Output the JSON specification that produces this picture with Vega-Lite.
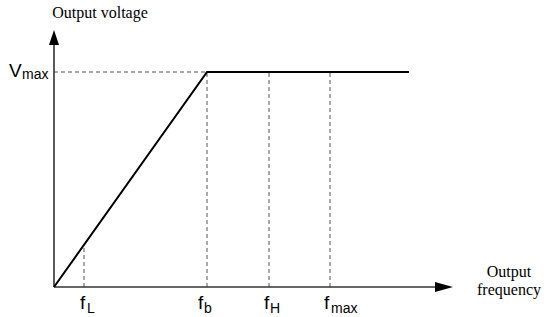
{
  "$schema": "https://vega.github.io/schema/vega-lite/v6.json",
  "width": 544,
  "height": 317,
  "padding": 0,
  "autosize": {"type": "none"},
  "background": "white",
  "config": {"view": {"stroke": null}},
  "datasets": {
    "dashes": [
      {"x": 0, "y": 215, "x2": 153, "y2": 215},
      {"x": 30, "y": 0, "x2": 30, "y2": 43},
      {"x": 153, "y": 0, "x2": 153, "y2": 215},
      {"x": 215, "y": 0, "x2": 215, "y2": 215},
      {"x": 276, "y": 0, "x2": 276, "y2": 215}
    ],
    "axes": [
      {"x": 0, "y": 0, "x2": 0, "y2": 243},
      {"x": 0, "y": 0, "x2": 382, "y2": 0}
    ],
    "curve": [
      {"frequency": 0, "voltage": 0},
      {"frequency": 153, "voltage": 215},
      {"frequency": 355, "voltage": 215}
    ],
    "arrowUp": [{"x": 0, "y": 249.5}],
    "arrowRight": [{"x": 390, "y": 0}],
    "mainLabels": [
      {"x": -45, "y": 210, "text": "V"},
      {"x": 26, "y": -22, "text": "f"},
      {"x": 144, "y": -22, "text": "f"},
      {"x": 210, "y": -22, "text": "f"},
      {"x": 270, "y": -22, "text": "f"}
    ],
    "subLabels": [
      {"x": -32, "y": 208, "text": "max"},
      {"x": 33, "y": -26, "text": "L"},
      {"x": 150, "y": -26, "text": "b"},
      {"x": 216, "y": -26, "text": "H"},
      {"x": 277, "y": -26, "text": "max"}
    ],
    "titles": [
      {"x": 46, "y": 269, "text": "Output voltage"},
      {"x": 455, "y": 10, "text": "Output"},
      {"x": 455, "y": -8, "text": "frequency"}
    ]
  },
  "layer": [
    {
      "data": {"name": "dashes"},
      "mark": {"type": "rule", "stroke": "#555555", "strokeWidth": 1, "strokeDash": [4, 3]},
      "encoding": {
        "x": {"field": "x", "type": "quantitative", "axis": null, "scale": {"domain": [-54, 490], "nice": false, "zero": false}},
        "y": {"field": "y", "type": "quantitative", "axis": null, "scale": {"domain": [-30, 287], "nice": false, "zero": false}},
        "x2": {"field": "x2"},
        "y2": {"field": "y2"}
      }
    },
    {
      "data": {"name": "axes"},
      "mark": {"type": "rule", "stroke": "#333333", "strokeWidth": 1.6},
      "encoding": {
        "x": {"field": "x", "type": "quantitative", "axis": null, "scale": {"domain": [-54, 490], "nice": false, "zero": false}},
        "y": {"field": "y", "type": "quantitative", "axis": null, "scale": {"domain": [-30, 287], "nice": false, "zero": false}},
        "x2": {"field": "x2"},
        "y2": {"field": "y2"}
      }
    },
    {
      "data": {"name": "curve"},
      "mark": {"type": "line", "stroke": "black", "strokeWidth": 2},
      "encoding": {
        "x": {"field": "frequency", "type": "quantitative", "axis": null, "scale": {"domain": [-54, 490], "nice": false, "zero": false}},
        "y": {"field": "voltage", "type": "quantitative", "axis": null, "scale": {"domain": [-30, 287], "nice": false, "zero": false}}
      }
    },
    {
      "data": {"name": "arrowUp"},
      "mark": {"type": "point", "shape": "M0,-1L0.67,1L-0.67,1Z", "size": 225, "filled": true, "color": "black", "opacity": 1},
      "encoding": {
        "x": {"field": "x", "type": "quantitative", "axis": null, "scale": {"domain": [-54, 490], "nice": false, "zero": false}},
        "y": {"field": "y", "type": "quantitative", "axis": null, "scale": {"domain": [-30, 287], "nice": false, "zero": false}}
      }
    },
    {
      "data": {"name": "arrowRight"},
      "mark": {"type": "point", "shape": "M1,0L-1,0.56L-1,-0.56Z", "size": 324, "filled": true, "color": "black", "opacity": 1},
      "encoding": {
        "x": {"field": "x", "type": "quantitative", "axis": null, "scale": {"domain": [-54, 490], "nice": false, "zero": false}},
        "y": {"field": "y", "type": "quantitative", "axis": null, "scale": {"domain": [-30, 287], "nice": false, "zero": false}}
      }
    },
    {
      "data": {"name": "mainLabels"},
      "mark": {"type": "text", "align": "left", "baseline": "alphabetic", "font": "Liberation Sans", "fontSize": 19, "color": "black"},
      "encoding": {
        "x": {"field": "x", "type": "quantitative", "axis": null, "scale": {"domain": [-54, 490], "nice": false, "zero": false}},
        "y": {"field": "y", "type": "quantitative", "axis": null, "scale": {"domain": [-30, 287], "nice": false, "zero": false}},
        "text": {"field": "text"}
      }
    },
    {
      "data": {"name": "subLabels"},
      "mark": {"type": "text", "align": "left", "baseline": "alphabetic", "font": "Liberation Sans", "fontSize": 14, "color": "black"},
      "encoding": {
        "x": {"field": "x", "type": "quantitative", "axis": null, "scale": {"domain": [-54, 490], "nice": false, "zero": false}},
        "y": {"field": "y", "type": "quantitative", "axis": null, "scale": {"domain": [-30, 287], "nice": false, "zero": false}},
        "text": {"field": "text"}
      }
    },
    {
      "data": {"name": "titles"},
      "mark": {"type": "text", "align": "center", "baseline": "alphabetic", "font": "Liberation Serif", "fontSize": 16, "color": "black"},
      "encoding": {
        "x": {"field": "x", "type": "quantitative", "axis": null, "scale": {"domain": [-54, 490], "nice": false, "zero": false}},
        "y": {"field": "y", "type": "quantitative", "axis": null, "scale": {"domain": [-30, 287], "nice": false, "zero": false}},
        "text": {"field": "text"}
      }
    }
  ]
}
